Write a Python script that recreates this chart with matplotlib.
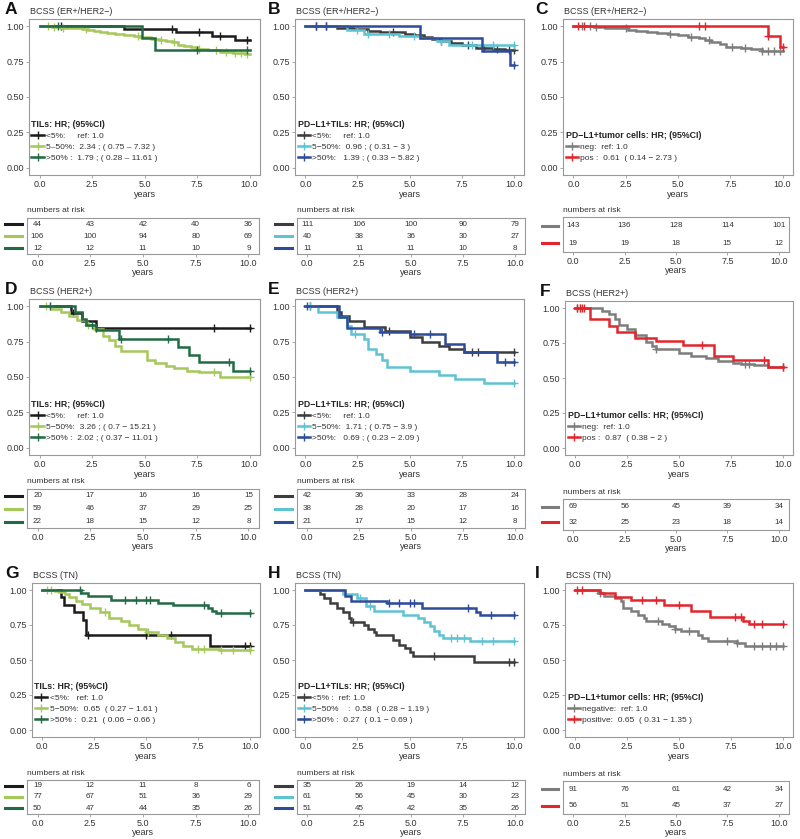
import matplotlib
matplotlib.use("Agg")
import matplotlib.pyplot as plt
from matplotlib.lines import Line2D
import numpy as np

plt.rcParams['font.family'] = ['Liberation Sans', 'DejaVu Sans']

# ---- colours per group ----
BLK = "#1c1c1c"
LGR = "#a5c85b"
DGR = "#236b45"
DGY = "#3d3d3d"
CYN = "#5ec3d3"
BLU = "#2f4c9a"
GRY = "#7d7d7d"
RED = "#e3262d"

risk_times = [0, 2.5, 5, 7.5, 10]

# ---- panel A: BCSS (ER+/HER2-), TILs ----
A_t = [[4.0, 6.5, 8.2, 9.3],
       [0.6, 1.0, 1.6, 2.0, 2.3, 2.6, 2.9, 3.2, 3.6, 4.0, 4.5, 4.8, 5.3, 5.7, 6.0, 6.3, 6.6, 6.9, 7.2, 7.5, 8.0, 8.6, 9.2, 9.8],
       [4.9, 5.5]]
A_s = [[0.98, 0.957, 0.93, 0.905],
       [0.995, 0.99, 0.985, 0.978, 0.97, 0.962, 0.955, 0.95, 0.945, 0.94, 0.93, 0.92, 0.91, 0.905, 0.895, 0.885, 0.87, 0.86, 0.85, 0.84, 0.83, 0.82, 0.81, 0.80],
       [0.915, 0.834]]
A_c = [[1.0, 6.3, 7.6, 8.6, 9.9],
       [0.4, 0.7, 1.1, 2.2, 4.7, 5.8, 6.4, 7.6, 8.4, 8.9, 9.3, 9.6, 9.9],
       [0.9, 7.5, 9.9]]
A_risk = [[44, 43, 42, 40, 36], [106, 100, 94, 80, 69], [12, 12, 11, 10, 9]]
A_lab = ["<5%:     ref: 1.0", "5\u201350%:  2.34 ; ( 0.75 \u2013 7.32 )", ">50% :  1.79 ; ( 0.28 \u2013 11.61 )"]

# ---- panel B: BCSS (ER+/HER2-), PD-L1+TILs ----
B_t = [[1.5, 2.3, 3.0, 3.6, 4.4, 4.8, 5.2, 5.7, 6.1, 6.5, 7.0, 7.5, 8.2, 9.0, 9.6],
       [2.0, 2.8, 4.5, 5.5, 6.3, 6.9],
       [5.5, 8.5, 9.85]]
B_s = [[0.99, 0.98, 0.967, 0.96, 0.955, 0.945, 0.935, 0.925, 0.91, 0.895, 0.88, 0.865, 0.845, 0.835, 0.83],
       [0.975, 0.945, 0.93, 0.915, 0.895, 0.87],
       [0.915, 0.823, 0.726]]
B_c = [[0.5, 1.0, 4.2, 6.5, 7.8, 8.6, 9.2, 9.8, 10.0],
       [2.5, 3.0, 4.0, 5.2, 6.5, 8.0, 9.0, 10.0],
       [0.5, 1.0, 10.0]]
B_risk = [[111, 106, 100, 90, 79], [40, 38, 36, 30, 27], [11, 11, 11, 10, 8]]
B_lab = ["<5%:     ref: 1.0", "5\u221250%:  0.96 ; ( 0.31 \u2212 3 )", ">50%:   1.39 ; ( 0.33 \u2212 5.82 )"]

# ---- panel C: BCSS (ER+/HER2-), PD-L1+ tumor cells ----
C_t = [[1.0, 1.5, 2.0, 2.6, 3.0, 3.5, 4.0, 4.5, 5.0, 5.5, 6.0, 6.3, 6.6, 7.0, 7.3, 8.0, 8.5, 9.0],
       [9.3, 9.9]]
C_s = [[0.995, 0.99, 0.985, 0.975, 0.965, 0.958, 0.95, 0.945, 0.935, 0.925, 0.915, 0.905, 0.89, 0.875, 0.855, 0.845, 0.835, 0.825],
       [0.93, 0.855]]
C_c = [[0.4, 0.8, 1.1, 2.5, 4.6, 5.6, 6.5, 7.6, 8.2, 9.0, 9.3, 9.6, 9.9],
       [0.2, 0.5, 6.0, 6.3, 9.3, 10.0]]
C_risk = [[143, 136, 128, 114, 101], [19, 19, 18, 15, 12]]
C_lab = ["neg:  ref: 1.0", "pos :  0.61  ( 0.14 \u2212 2.73 )"]

# ---- panel D: BCSS (HER2+), TILs ----
D_t = [[1.5, 2.0, 2.7],
       [0.6, 1.0, 1.4, 1.8, 2.2, 2.6, 3.0, 3.3, 3.6, 3.9, 5.1, 5.5, 6.0, 6.4, 7.0, 7.6, 8.6],
       [1.7, 2.0, 2.2, 2.7, 3.8, 6.6, 7.1, 7.6, 9.2]]
D_s = [[0.95, 0.895, 0.844],
       [0.98, 0.96, 0.93, 0.90, 0.87, 0.84, 0.79, 0.76, 0.72, 0.686, 0.62, 0.60, 0.58, 0.56, 0.545, 0.535, 0.50],
       [0.955, 0.91, 0.87, 0.83, 0.768, 0.709, 0.655, 0.608, 0.544]]
D_c = [[1.6, 2.7, 8.3, 10.0],
       [0.3, 0.5, 2.3, 8.3, 10.0],
       [0.5, 2.5, 3.9, 6.1, 9.0, 10.0]]
D_risk = [[20, 17, 16, 16, 15], [59, 46, 37, 29, 25], [22, 18, 15, 12, 8]]
D_lab = ["<5%:     ref: 1.0", "5\u221250%:  3.26 ; ( 0.7 \u2212 15.21 )", ">50% :  2.02 ; ( 0.37 \u2212 11.01 )"]

# ---- panel E: BCSS (HER2+), PD-L1+TILs ----
E_t = [[1.5, 1.7, 2.1, 2.8, 3.8, 5.0, 5.6, 6.4, 6.9, 7.6],
       [0.6, 1.5, 2.0, 2.2, 2.8, 3.0, 3.4, 3.7, 3.9, 5.0, 6.4, 7.2, 8.6],
       [1.6, 2.0, 3.6, 5.0, 6.7, 7.6, 9.2]]
E_s = [[0.96, 0.93, 0.895, 0.85, 0.823, 0.78, 0.75, 0.72, 0.70, 0.674],
       [0.96, 0.92, 0.86, 0.80, 0.77, 0.70, 0.66, 0.62, 0.574, 0.545, 0.515, 0.485, 0.456],
       [0.92, 0.845, 0.815, 0.80, 0.733, 0.674, 0.603]]
E_c = [[0.2, 4.0, 8.0, 8.3, 10.0],
       [0.2, 2.4, 10.0],
       [0.1, 3.7, 5.2, 6.0, 9.6, 10.0]]
E_risk = [[42, 36, 33, 28, 24], [38, 28, 20, 17, 16], [21, 17, 15, 12, 8]]
E_lab = ["<5%:     ref: 1.0", "5\u221250%:  1.71 ; ( 0.75 \u2212 3.9 )", ">50%:   0.69 ; ( 0.23 \u2212 2.09 )"]

# ---- panel F: BCSS (HER2+), PD-L1+ tumor cells ----
F_t = [[1.3, 1.6, 1.9, 2.1, 2.5, 2.9, 3.4, 3.7, 3.9, 5.0, 5.6, 6.3, 6.9, 7.6, 8.0, 8.6, 9.3],
       [0.7, 1.6, 2.0, 2.9, 3.9, 5.2, 6.7, 7.6, 9.3]]
F_s = [[0.98, 0.955, 0.92, 0.88, 0.85, 0.81, 0.76, 0.73, 0.705, 0.68, 0.66, 0.64, 0.62, 0.61, 0.60, 0.59, 0.58],
       [0.925, 0.87, 0.827, 0.787, 0.764, 0.735, 0.66, 0.629, 0.58]]
F_c = [[0.1, 0.2, 3.9, 8.2, 8.4, 10.0],
       [0.1, 0.2, 0.3, 0.4, 6.1, 9.1, 10.0]]
F_risk = [[69, 56, 45, 39, 34], [32, 25, 23, 18, 14]]
F_lab = ["neg:  ref: 1.0", "pos :  0.87  ( 0.38 \u2212 2 )"]

# ---- panel G: BCSS (TN), TILs ----
G_t = [[0.9, 1.05, 1.55, 1.95, 2.1, 8.1],
       [0.6, 0.8, 1.1, 1.3, 1.6, 1.9, 2.3, 2.8, 3.2, 3.8, 4.2, 4.6, 5.0, 5.6, 6.0, 6.4, 6.8, 7.2, 8.5],
       [1.85, 2.2, 3.3, 5.6, 6.3, 8.0, 8.2, 8.4]]
G_s = [[0.95, 0.895, 0.845, 0.786, 0.68, 0.60],
       [0.995, 0.985, 0.97, 0.95, 0.925, 0.90, 0.87, 0.84, 0.80, 0.78, 0.75, 0.72, 0.70, 0.68, 0.66, 0.63, 0.60, 0.58, 0.57],
       [0.98, 0.955, 0.93, 0.91, 0.89, 0.87, 0.85, 0.835]]
G_c = [[2.2, 5.0, 6.2, 9.8, 10.0],
       [0.2, 0.4, 3.0, 5.1, 7.5, 7.8, 8.6, 9.2, 10.0],
       [1.8, 4.0, 4.5, 5.0, 5.2, 7.8, 8.6, 10.0]]
G_risk = [[19, 12, 11, 8, 6], [77, 67, 51, 36, 29], [50, 47, 44, 35, 26]]
G_lab = ["<5%:   ref: 1.0", "5\u221250%:  0.65  ( 0.27 \u2212 1.61 )", ">50% :  0.21  ( 0.06 \u2212 0.66 )"]

# ---- panel H: BCSS (TN), PD-L1+TILs ----
H_t = [[0.7, 0.9, 1.2, 1.5, 1.8, 2.1, 2.2, 2.8, 3.0, 3.3, 3.4, 4.2, 4.5, 4.8, 5.0, 5.15, 8.1],
       [1.8, 2.5, 2.9, 3.3, 4.7, 5.4, 5.7, 6.0, 6.2, 6.4, 6.6, 7.9],
       [1.9, 2.2, 3.9, 5.6, 8.2, 8.4]]
H_s = [[0.97, 0.94, 0.91, 0.87, 0.84, 0.80, 0.77, 0.75, 0.72, 0.70, 0.68, 0.64, 0.61, 0.586, 0.56, 0.53, 0.487],
       [0.97, 0.94, 0.887, 0.852, 0.821, 0.80, 0.77, 0.74, 0.71, 0.68, 0.656, 0.633],
       [0.96, 0.918, 0.905, 0.87, 0.84, 0.82]]
H_c = [[2.3, 6.2, 9.8, 10.0],
       [2.6, 3.1, 7.0, 7.3, 7.6, 8.5, 9.0, 10.0],
       [4.0, 4.5, 5.0, 5.2, 7.8, 8.9, 10.0]]
H_risk = [[35, 26, 19, 14, 12], [61, 56, 45, 30, 23], [51, 45, 42, 35, 26]]
H_lab = ["<5% :  ref: 1.0", "5\u221250%    :  0.58  ( 0.28 \u2212 1.19 )", ">50% :  0.27  ( 0.1 \u2212 0.69 )"]

# ---- panel I: BCSS (TN), PD-L1+ tumor cells ----
I_t = [[1.1, 1.4, 1.9, 2.2, 2.3, 2.7, 3.0, 3.3, 3.4, 4.2, 4.5, 4.8, 5.1, 5.9, 6.1, 6.4, 7.8, 8.2],
       [1.2, 1.9, 2.7, 4.3, 5.6, 6.5, 8.1, 8.4]]
I_s = [[0.98, 0.96, 0.94, 0.92, 0.875, 0.85, 0.82, 0.80, 0.776, 0.76, 0.74, 0.72, 0.706, 0.68, 0.66, 0.635, 0.62, 0.60],
       [0.98, 0.95, 0.927, 0.89, 0.847, 0.81, 0.78, 0.755]]
I_c = [[1.2, 4.0, 4.8, 5.5, 7.3, 7.8, 8.6, 9.0, 9.4, 9.7, 10.0],
       [0.1, 0.3, 3.2, 3.9, 5.0, 7.7, 8.0, 8.6, 9.0, 10.0]]
I_risk = [[91, 76, 61, 42, 34], [56, 51, 45, 37, 27]]
I_lab = ["negative:  ref: 1.0", "positive:  0.65  ( 0.31 \u2212 1.35 )"]

TIL_COL = [BLK, LGR, DGR]
PDT_COL = [DGY, CYN, BLU]
TUM_COL = [GRY, RED]

W, H = 800, 839
fig = plt.figure(figsize=(8, 8.39), dpi=100)


def rect(l, t, r, b):
    return [l / W, 1 - b / H, (r - l) / W, (b - t) / H]


TXT = "#333333"
SPINE = "#999999"


def style(ax):
    for sp in ax.spines.values():
        sp.set_color(SPINE)
        sp.set_linewidth(0.8)
    ax.tick_params(labelsize=6.5, colors=SPINE, labelcolor=TXT, length=2, width=0.6, pad=1.5)


def panel(letter, letter_x, title, km_box, risk_box, ts, ss, cs, cols, leg_title, labs, risk):
    ax = fig.add_axes(rect(*km_box))
    for t, s, c, col in zip(ts, ss, cs, cols):
        t = np.asarray(t); s = np.asarray(s)
        x = np.concatenate([[0], t, [10]])
        y = np.concatenate([[1.0], s, [s[-1]]])
        ax.step(x, y, where='post', color=col, lw=1.8, solid_joinstyle='miter')
        c = np.asarray(c)
        idx = np.searchsorted(t, c, side='right') - 1
        cy = np.where(idx < 0, 1.0, s[np.clip(idx, 0, None)])
        ax.plot(c, cy, ls='none', marker='+', ms=5.5, mew=1.0, color=col)
    ax.set_xlim(-0.5, 10.5)
    ax.set_ylim(-0.05, 1.05)
    ax.set_xticks([0, 2.5, 5, 7.5, 10])
    ax.set_xticklabels(["0.0", "2.5", "5.0", "7.5", "10.0"])
    ax.set_yticks([0, 0.25, 0.5, 0.75, 1.0])
    ax.set_yticklabels(["0.00", "0.25", "0.50", "0.75", "1.00"])
    ax.set_xlabel("years", fontsize=6.5, color=TXT, labelpad=0.5)
    style(ax)
    handles = [Line2D([0], [0], color=col, lw=1.8, marker='+', ms=6, mew=1.0) for col in cols]
    leg = ax.legend(handles, labs, loc='lower left', bbox_to_anchor=(0.0, 0.07),
                    frameon=False, fontsize=6, title=leg_title,
                    title_fontproperties={'weight': 'bold', 'size': 6.3},
                    alignment='left', handlelength=1.5, handletextpad=0.3,
                    labelspacing=0.35, borderaxespad=0, borderpad=0.3)
    for tx in leg.get_texts():
        tx.set_color(TXT)
    leg.get_title().set_color("#222222")

    l, t = km_box[0], km_box[1]
    fig.text(letter_x / W, 1 - (t - 9) / H, letter, fontsize=12.5, fontweight='bold',
             ha='left', va='center', color="#111111")
    fig.text((l + 1) / W, 1 - (t - 8) / H, title, fontsize=6.5, ha='left', va='center', color=TXT)

    # numbers at risk table
    rx = fig.add_axes(rect(*risk_box))
    n = len(risk)
    rx.set_xlim(-0.5, 10.5)
    rx.set_ylim(0, n)
    for i, (row, col) in enumerate(zip(risk, cols)):
        yy = n - i - 0.5
        for xv, v in zip(risk_times, row):
            rx.text(xv, yy, str(v), fontsize=5.8, ha='center', va='center', color=TXT)
        rx.add_line(Line2D([-0.095, -0.02], [yy / n, yy / n], transform=rx.transAxes,
                           color=col, lw=2.2, clip_on=False))
    rx.set_yticks([])
    rx.set_xticks([0, 2.5, 5, 7.5, 10])
    rx.set_xticklabels(["0.0", "2.5", "5.0", "7.5", "10.0"])
    rx.set_xlabel("years", fontsize=6.5, color=TXT, labelpad=0)
    style(rx)
    rx.text(0.0, 1.1, "numbers at risk", transform=rx.transAxes, fontsize=6,
            ha='left', va='bottom', color=TXT)


panel("A", 5, "BCSS (ER+/HER2\u2212)", (29, 19, 260, 175), (27, 218, 259, 254),
      A_t, A_s, A_c, TIL_COL, "TILs: HR; (95%CI)", A_lab, A_risk)
panel("B", 268, "BCSS (ER+/HER2\u2212)", (295, 19, 524, 175), (297, 218, 525, 254),
      B_t, B_s, B_c, PDT_COL, "PD\u2212L1+TILs: HR; (95%CI)", B_lab, B_risk)
panel("C", 535, "BCSS (ER+/HER2\u2212)", (563, 19, 793, 175), (563, 217, 789, 252),
      C_t, C_s, C_c, TUM_COL, "PD\u2212L1+tumor cells: HR; (95%CI)", C_lab, C_risk)

panel("D", 5, "BCSS (HER2+)", (29, 299, 260, 455), (27, 489, 259, 528),
      D_t, D_s, D_c, TIL_COL, "TILs: HR; (95%CI)", D_lab, D_risk)
panel("E", 268, "BCSS (HER2+)", (295, 299, 524, 455), (297, 489, 525, 528),
      E_t, E_s, E_c, PDT_COL, "PD\u2212L1+TILs: HR; (95%CI)", E_lab, E_risk)
panel("F", 540, "BCSS (HER2+)", (565, 301, 793, 455), (563, 499, 789, 530),
      F_t, F_s, F_c, TUM_COL, "PD\u2212L1+tumor cells: HR; (95%CI)", F_lab, F_risk)

panel("G", 5, "BCSS (TN)", (32, 583, 260, 737), (27, 780, 259, 814),
      G_t, G_s, G_c, TIL_COL, "TILs: HR; (95%CI)", G_lab, G_risk)
panel("H", 268, "BCSS (TN)", (295, 583, 524, 737), (297, 780, 525, 814),
      H_t, H_s, H_c, PDT_COL, "PD\u2212L1+TILs: HR; (95%CI)", H_lab, H_risk)
panel("I", 535, "BCSS (TN)", (565, 583, 793, 737), (563, 781, 789, 814),
      I_t, I_s, I_c, TUM_COL, "PD\u2212L1+tumor cells: HR; (95%CI)", I_lab, I_risk)

fig.savefig("out.png", dpi=100)
